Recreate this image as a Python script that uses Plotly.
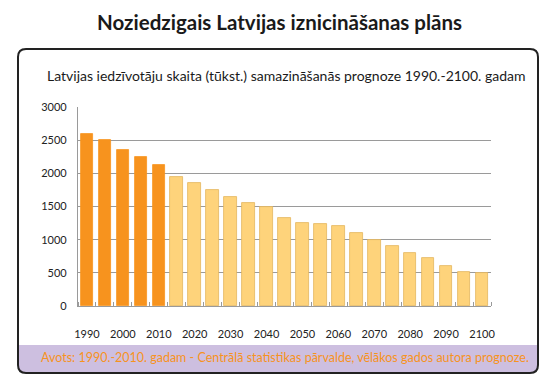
import plotly.graph_objects as go

years = list(range(1990, 2101, 5))
population = [2600, 2500, 2350, 2250, 2120, 1950, 1850, 1750, 1650, 1550, 1490, 1328,
              1256, 1236, 1201, 1096, 1000, 900, 795, 725, 598, 513, 492]
actual_until = 2010
tick_years = list(range(1990, 2101, 10))
y_ticks = [0, 500, 1000, 1500, 2000, 2500, 3000]

title_text = "Noziedzigais Latvijas iznicināšanas plāns"
subtitle_text = "Latvijas iedzīvotāju skaita (tūkst.) samazināšanās prognoze 1990.-2100. gadam"
footer_text = "Avots: 1990.-2010. gadam - Centrālā statistikas pārvalde, vēlākos gados autora prognoze."

DARK = "#F7931E"
LIGHT = "#FED37B"
W, H = 554, 392
L, R, T, B = 78, 491, 107, 306

def px(x):
    return (x - L) / (R - L)

def py(y):
    return (B - y) / (B - T)

colors = [DARK if y <= actual_until else LIGHT for y in years]
line_colors = [DARK if y <= actual_until else "#E2B55E" for y in years]

fig = go.Figure(go.Bar(
    x=years, y=population, width=3.5,
    marker=dict(color=colors, line=dict(color=line_colors, width=0.8)),
))

def rounded(x0, y0, x1, y1, r, top=True, bottom=True):
    a, b_, c, d = px(x0), py(y0), px(x1), py(y1)
    rx = r / (R - L)
    ry = r / (B - T)
    p = []
    if top:
        p.append(f"M {a+rx},{b_} L {c-rx},{b_} Q {c},{b_} {c},{b_-ry}")
    else:
        p.append(f"M {a},{b_} L {c},{b_}")
    if bottom:
        p.append(f"L {c},{d+ry} Q {c},{d} {c-rx},{d} L {a+rx},{d} Q {a},{d} {a},{d+ry}")
    else:
        p.append(f"L {c},{d} L {a},{d}")
    if top:
        p.append(f"L {a},{b_-ry} Q {a},{b_} {a+rx},{b_} Z")
    else:
        p.append(f"Z")
    return " ".join(p)

shapes = [
    dict(type="path", xref="paper", yref="paper", layer="below",
         path=rounded(18, 345, 538, 373, 8, top=False, bottom=True),
         fillcolor="#CDBFE0", line=dict(width=0)),
    dict(type="path", xref="paper", yref="paper", layer="above",
         path=rounded(18, 49, 538, 373, 8),
         fillcolor="rgba(0,0,0,0)", line=dict(color="#222222", width=2)),
]

annotations = [
    dict(text=f"<b>{title_text}</b>", xref="paper", yref="paper", x=px(279), y=py(22),
         showarrow=False, xanchor="center", yanchor="middle",
         font=dict(family="Lato", size=20.5, color="#1a1a1a")),
    dict(text=subtitle_text, xref="paper", yref="paper", x=px(45), y=py(75),
         showarrow=False, xanchor="left", yanchor="middle",
         font=dict(family="Lato", size=14, color="#1a1a1a")),
    dict(text=footer_text, xref="paper", yref="paper", x=px(285), y=py(357),
         showarrow=False, xanchor="center", yanchor="middle",
         font=dict(family="Lato", size=12.5, color="#F7931E")),
]

fig.update_layout(
    width=W, height=H,
    margin=dict(l=L, r=W - R, t=T, b=H - B, pad=0),
    paper_bgcolor="white", plot_bgcolor="white",
    showlegend=False, bargap=0,
    shapes=shapes, annotations=annotations,
    font=dict(family="Lato", color="#222222"),
    xaxis=dict(
        range=[1987.5, 2102.5], tickmode="array", tickvals=tick_years,
        ticktext=[str(t) for t in tick_years], ticks="", showgrid=False,
        showline=True, linecolor="#9a9a9a", linewidth=1.2,
        tickfont=dict(size=11, color="#222222"), ticklabelstandoff=18,
        minor=dict(tick0=1987.5, dtick=5, ticks="inside", ticklen=4,
                   tickcolor="#9a9a9a", tickwidth=1.2, showgrid=False),
        zeroline=False, fixedrange=True,
    ),
    yaxis=dict(
        range=[0, 3000], tickmode="array", tickvals=y_ticks,
        showgrid=True, gridcolor="#9a9a9a", gridwidth=1.2,
        showline=True, linecolor="#9a9a9a", linewidth=1.2,
        ticks="", tickfont=dict(size=11, color="#222222"), ticklabelstandoff=8,
        zeroline=False, fixedrange=True,
    ),
)

fig.write_html("out.html", config={"displayModeBar": False},
               post_script="document.body.style.margin='0';")
